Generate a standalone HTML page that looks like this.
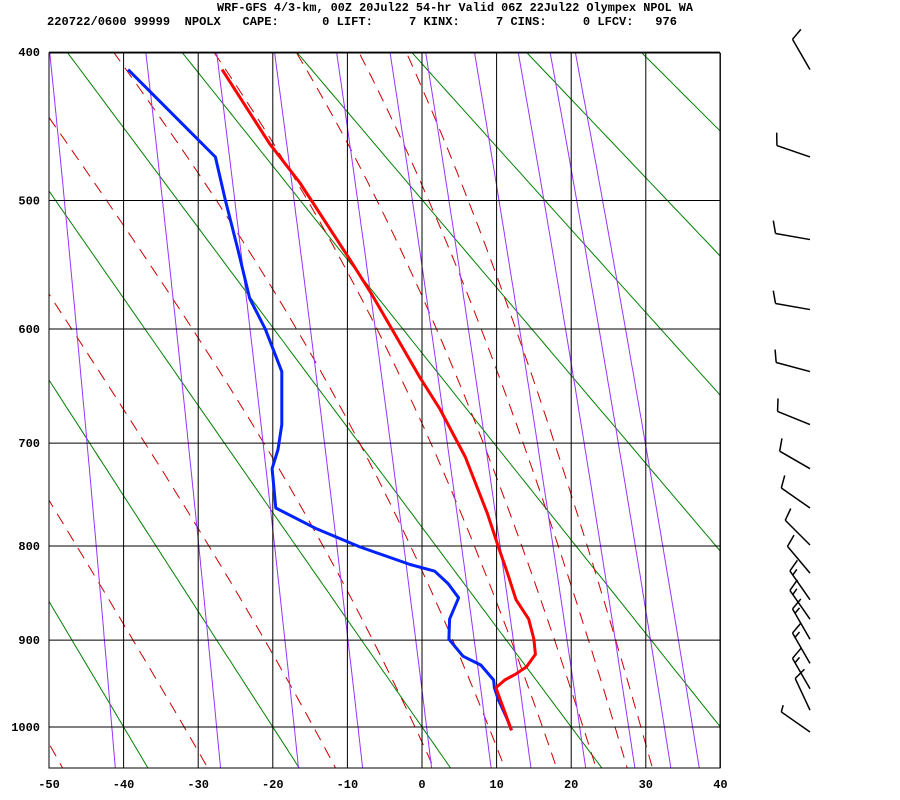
<!DOCTYPE html>
<html><head><meta charset="utf-8"><style>
html,body{margin:0;padding:0;background:#fff;}
svg{display:block;}
text{font-family:"Liberation Mono",monospace;font-weight:bold;fill:#000;}
</style></head><body>
<svg id="chart" width="900" height="800" xmlns="http://www.w3.org/2000/svg">
<defs><clipPath id="plotclip"><rect x="49" y="53" width="671" height="715"/></clipPath></defs>
<text x="217" y="11" font-size="12" textLength="476" lengthAdjust="spacingAndGlyphs" xml:space="preserve">WRF-GFS 4/3-km, 00Z 20Jul22 54-hr Valid 06Z 22Jul22 Olympex NPOL WA</text>
<text x="47" y="25" font-size="12" textLength="630" lengthAdjust="spacingAndGlyphs" xml:space="preserve">220722/0600 99999  NPOLX   CAPE:      0 LIFT:     7 KINX:     7 CINS:     0 LFCV:   976</text>
<rect x="49" y="53" width="671" height="715" fill="#fff"/>
<g id="bg" clip-path="url(#plotclip)"></g>
<g id="grid"></g>
<g id="profiles" clip-path="url(#plotclip)"></g>
<g id="labels"></g>
<g id="barbs"></g>
</svg>
<script>
// ---- data ----
const tempTicks = [-50,-40,-30,-20,-10,0,10,20,30,40];
const presTicks = [400,500,600,700,800,900,1000];
const thetaLines = [-60,-40,-20,0,20,40,60,80,100,120,140]; // dry adiabats, deg C
const thetaELines = [222,242,262,282,302,322,342,362,382]; // K
const mixRatios = [0.1,0.4,1,2,4,7,10,16,24,32,40];
const tempP = [411,460,487,544,572,641,669,713,768,800,829,856,877,899,916,930,938,945,954,1004];
const tempT = [-26.8,-20.4,-16.4,-9.7,-6.7,-0.3,2.4,5.8,8.8,10.2,11.5,12.6,14.3,15.0,15.2,14.0,12.6,11.1,9.9,12.0];
const dewP = [411,469,499,536,575,600,636,683,706,724,762,782,801,819,826,839,854,877,899,918,928,945,954,967,990,1004];
const dewT = [-39.4,-27.7,-26.4,-24.7,-23.1,-21.0,-18.8,-18.8,-19.3,-20.1,-19.6,-14.3,-8.3,-1.6,1.7,3.5,4.9,3.7,3.6,5.5,7.9,9.6,9.7,10.2,11.4,12.0];
const windP = [411,469,529,584,636,683,724,762,799,828,856,877,899,926,955,980,1006];
const windDir = [330,289,280,280,285,292,300,305,315,320,325,325,330,330,330,335,305];
const windSpd = [10,10,10,10,10,10,10,10,10,10,15,15,15,15,15,10,5];

// ---- axes ----
const X0=422, PXD=7.46;
function xT(t){return X0+t*PXD;}
function yP(p){return 727-406*(Math.pow(1000,0.286)-Math.pow(p,0.286));}
const NS="http://www.w3.org/2000/svg";
function mk(tag,attrs,parent){const e=document.createElementNS(NS,tag);for(const k in attrs)e.setAttribute(k,attrs[k]);parent.appendChild(e);return e;}
const bg=document.getElementById('bg'),grid=document.getElementById('grid'),prof=document.getElementById('profiles'),lab=document.getElementById('labels'),barbs=document.getElementById('barbs');
const pSteps=[];for(let p=380;p<=1060;p+=5)pSteps.push(p);
function pathFrom(fn){let d='';pSteps.forEach((p,i)=>{const t=fn(p);if(t===null)return;d+=(d?'L':'M')+xT(t).toFixed(1)+' '+yP(p).toFixed(1);});return d;}
function es(t){return 6.112*Math.exp(17.67*t/(t+243.5));}
// dry adiabats
thetaLines.forEach(th=>{const d=pathFrom(p=>(th+273.15)*Math.pow(p/1000,0.286)-273.15);
 const e=mk('path',{d:d,stroke:'#008000','stroke-width':1,fill:'none'},bg);
 
 });
// moist (theta-e) lines
function thetaE(t,p){const T=t+273.15;const r=622*es(t)/(p-es(t));return T*Math.pow(1000/p,0.2854*(1-0.00028*r))*Math.exp((3.376/T-0.00254)*r*(1+0.00081*r));}
thetaELines.forEach(te=>{const d=pathFrom(p=>{let lo=-100,hi=60;if(thetaE(hi,p)<te)return null;if(thetaE(lo,p)>te)return null;for(let i=0;i<50;i++){const m=(lo+hi)/2;if(thetaE(m,p)<te)lo=m;else hi=m;}return (lo+hi)/2;});
 const e=mk('path',{d:d,stroke:'#cc0000','stroke-width':1,fill:'none','stroke-dasharray':'12 8'},bg);
 
 });
// mixing ratio lines
mixRatios.forEach(w=>{const d=pathFrom(p=>{const e=w*p/(622+w);const l=Math.log(e/6.112);return 243.5*l/(17.67-l);});
 const e=mk('path',{d:d,stroke:'#9933ff','stroke-width':1,fill:'none'},bg);
 
 });
// grid
tempTicks.forEach(t=>{const e=mk('line',{x1:xT(t),x2:xT(t),y1:53,y2:768,stroke:'#000','stroke-width':1},grid);
 
 
 const l=mk('text',{x:xT(t),y:788,'font-size':12,'text-anchor':'middle'},lab);l.textContent=t;
 
 });
presTicks.forEach(p=>{const e=mk('line',{x1:49,x2:720,y1:yP(p),y2:yP(p),stroke:'#000','stroke-width':1},grid);
 
 
 const l=mk('text',{x:40,y:yP(p)+4,'font-size':12,'text-anchor':'end'},lab);l.textContent=p;
 
 });
const fr=mk('rect',{x:49,y:53,width:671,height:715,fill:'none',stroke:'#000','stroke-width':1},grid);


// profiles
function prof1(P,T,col,name){let d='';P.forEach((p,i)=>{d+=(i?'L':'M')+xT(T[i]).toFixed(1)+' '+yP(p).toFixed(1);});
 const e=mk('path',{d:d,stroke:col,'stroke-width':3,fill:'none','stroke-linejoin':'round'},prof);
 
 }
prof1(dewP,dewT,'#0022ff','dewpoint-profile');
prof1(tempP,tempT,'#ff0000','temperature-profile');
// wind barbs
windP.forEach((p,i)=>{const y=yP(p),x=810;const a=windDir[i]*Math.PI/180;const ux=Math.sin(a),uy=-Math.cos(a);const L=35;
 const g=mk('g',{},barbs);
 
 
 const tx=x+ux*L,ty=y+uy*L;
 mk('line',{x1:x,y1:y,x2:tx,y2:ty,stroke:'#000','stroke-width':1.5},g);
 let s=windSpd[i],pos=0;const px=-uy,py=ux;
 while(s>=5){const len=s>=10?13:7;const bx=tx-ux*pos*5,by=ty-uy*pos*5;
  const vx=px*0.94+ux*0.34,vy=py*0.94+uy*0.34;
  mk('line',{x1:bx,y1:by,x2:bx+vx*len,y2:by+vy*len,stroke:'#000','stroke-width':1.5},g);
  s-=s>=10?10:5;pos++;}
});
</script>
</body></html>
